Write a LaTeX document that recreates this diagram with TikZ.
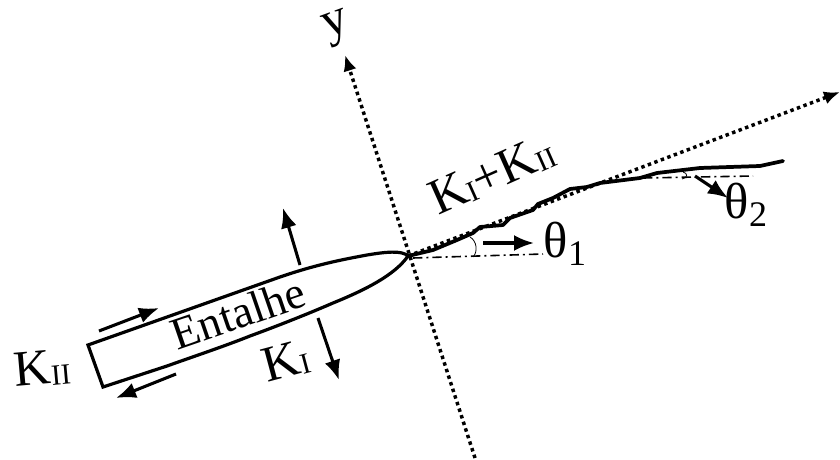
\documentclass[tikz,border=0pt]{standalone}
\usepackage{fontspec}
\setmainfont{Liberation Serif}
\usetikzlibrary{arrows.meta}
\newcommand{\bigtxt}{\fontsize{38}{40}\selectfont}
\newcommand{\midtxt}{\fontsize{34}{36}\selectfont}
\newcommand{\subtxt}[1]{\raisebox{-1.5pt}{\fontsize{22}{24}\selectfont #1}}
\newcommand{\gsub}[1]{\raisebox{-6pt}{\fontsize{27}{29}\selectfont #1}}
\tikzset{
  outline/.style={line width=2.4pt,black,line join=miter},
  axisline/.style={line width=2.6pt,black,dash pattern=on 2.6pt off 2.6pt,-{Latex[length=12pt,width=10pt]}},
  force/.style={line width=2.3pt,black,-{Latex[length=15pt,width=12pt]}},
  chain/.style={line width=1.2pt,black,dash pattern=on 7pt off 3pt on 1.5pt off 3pt},
  lab/.style={inner sep=0pt,font=\bigtxt,text=black},
}
\begin{document}
\begin{tikzpicture}[x=0.75pt,y=-0.75pt]
\useasboundingbox[fill=white] (0,0) rectangle (840,460);
\coordinate (tip) at (408,256);
\coordinate (axb) at (475,458);
\coordinate (axt) at (345,55);
\coordinate (axr) at (840,92);
\draw[axisline] (axb) -- (axt);
\draw[axisline] (tip) -- (axr);
% notch
\draw[outline] (tip) .. controls (402,250) and (385,252) .. (367,255)
   .. controls (340,260) and (315,265) .. (280,277) -- (88,345) -- (103,387)
   -- (167,366) .. controls (195,356) and (225,346) .. (250,336)
   .. controls (280,325) and (310,313) .. (333,303)
   .. controls (365,290) and (395,275) .. (tip);
% crack
\draw[line width=2.8pt,line join=round,line cap=round] (tip) -- (433,250) -- (457,240) -- (473,233) -- (480,227) -- (503,225) -- (510,218) -- (533,210) -- (538,204) -- (553,198) -- (570,189) -- (587,187) -- (600,183) -- (640,178) -- (657,173) -- (700,168) -- (760,166) -- (783,161);
% reference lines
\coordinate (c1) at (543,254);
\coordinate (c2a) at (643,178);
\coordinate (c2b) at (753,176);
\draw[chain] (tip) ++(5,2) -- (c1);
\draw[chain] (c2a) -- (c2b);
\draw[line width=0.6pt] (470,237) .. controls (477,241) and (478,252) .. (473,257);
\draw[line width=0.6pt] (683,172) .. controls (688,173) and (688,178) .. (682,179);
% force arrows
\coordinate (a1s) at (300,265); \coordinate (a1e) at (283,208);
\coordinate (a2s) at (318,318); \coordinate (a2e) at (339,380);
\coordinate (a3s) at (99,331);  \coordinate (a3e) at (159,308);
\coordinate (a4s) at (176,374); \coordinate (a4e) at (116,398);
\coordinate (a5s) at (483,243); \coordinate (a5e) at (534,243);
\coordinate (a6s) at (695,176); \coordinate (a6e) at (728,198);
\draw[force] (a1s) -- (a1e);
\draw[force] (a2s) -- (a2e);
\draw[force] (a3s) -- (a3e);
\draw[force] (a4s) -- (a4e);
\draw[force] (a5s) -- (a5e);
\draw[force] (a6s) -- (a6e);
% labels
\node[lab,rotate=20] (ylab) at (337,28) {y};
\node[lab,font=\midtxt,rotate=19] (entalhe) at (238,313) {Entalhe};
\node[lab,rotate=5] (kii) at (42,369) {K\subtxt{II}};
\node[lab,rotate=15] (ki) at (286,361) {K\subtxt{I}};
\node[lab,rotate=24] (kikii) at (492,175) {K\subtxt{I}+K\subtxt{II}};
\node[lab] (t1) at (565,244) {θ\gsub{1}};
\node[lab] (t2) at (746,205) {θ\gsub{2}};
\end{tikzpicture}
\end{document}
